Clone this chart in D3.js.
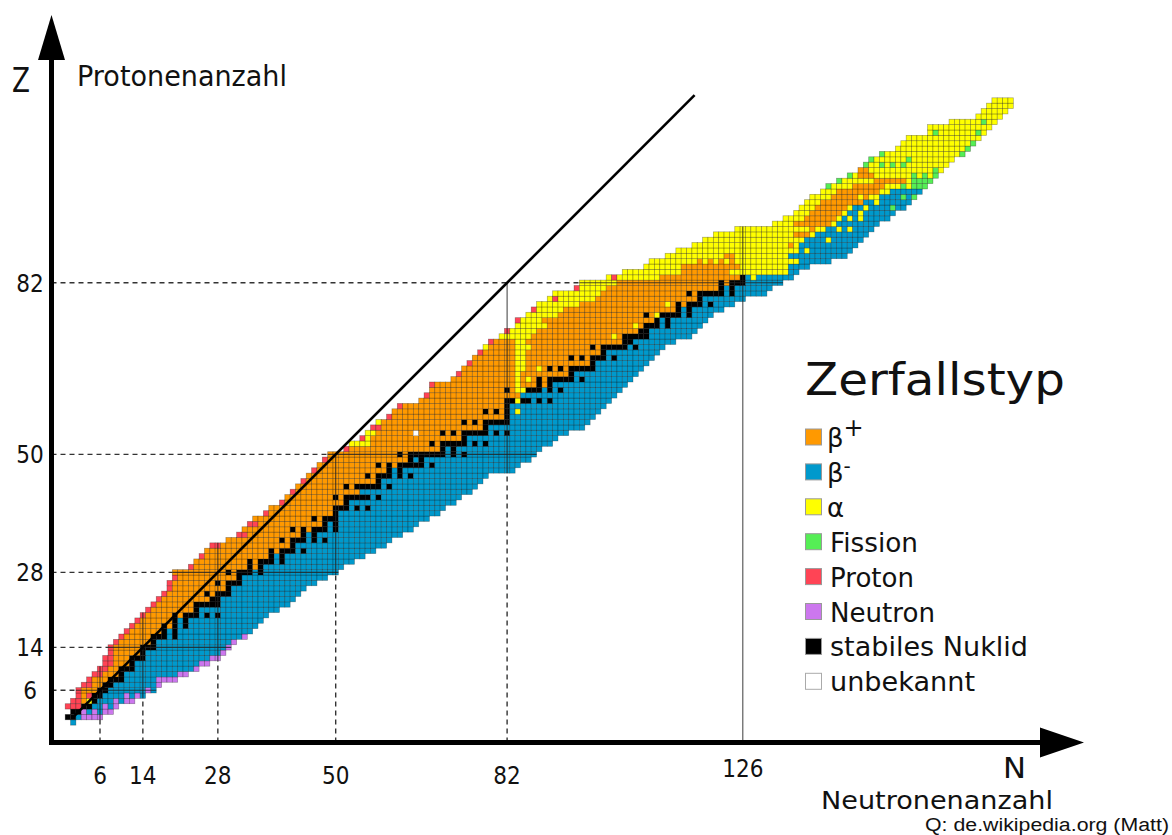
<!DOCTYPE html>
<html>
<head>
<meta charset="utf-8">
<script src="https://cdn.jsdelivr.net/npm/d3@7"></script>
<style>
  body { margin: 0; background: #fff; }
  svg { display: block; }
</style>
</head>
<body>
<div id="chart"></div>
<script>
// decay type keys and legend labels
const decayKeys = ["o", "b", "a", "f", "p", "n", "s", "u"];
const decayLabels = ["β", "β", "α", "Fission", "Proton", "Neutron", "stabiles Nuklid", "unbekannt"];
const decaySup = ["+", "-", "", "", "", "", "", ""];

// first neutron number N of every row, index = proton number Z
const rowStartN = [
  1, 0, 1, 0, 1, 2, 2, 3, 4, 5,
  6, 7, 7, 8, 8, 9, 10, 11, 12, 13,
  14, 15, 16, 17, 18, 19, 19, 20, 20, 23,
  24, 25, 26, 27, 30, 32, 33, 34, 35, 37,
  38, 40, 41, 42, 43, 44, 45, 46, 47, 48,
  49, 52, 53, 55, 56, 57, 58, 60, 61, 62,
  66, 67, 68, 68, 72, 73, 74, 75, 76, 77,
  78, 79, 81, 82, 84, 84, 86, 87, 88, 90,
  91, 95, 96, 101, 104, 108, 109, 112, 114, 117,
  119, 121, 125, 132, 134, 136, 137, 138, 139, 141,
  142, 144, 146, 148, 149, 150, 152, 155, 156, 157,
  161, 161, 165, 170, 171, 172, 173
];

// decay type runs along each row (type letter + count), index = Z
const rowRuns = [
  "b1", "s2b1n4", "s2n1b1n1b1n2", "p3s2b2n1b1n1", "p2o1a1s1b3n1b1n2",
  "p1o1p1s2b4n1b1n1b1", "p1o3s2b7n1b1", "p2o2s2b8n1", "p1o3s3b6n4", "p2o3s1b10n2",
  "p2o2s3b11n1", "p2o3s1b12n2", "p2o3s3b12n2", "p1o5s1b14n1", "p1o5s3b13n1",
  "p1o6s1b14n1", "p1o5s3b1s1b12n1", "p1o6s1b1s1b14", "p1o5s1o1s1b1s1b13", "p1o6s1b1s1b14",
  "p1o5s1o1s3b1s1b1s1b9", "p1o8s1b15", "p1o7s5b13", "p1o9s2b14", "p1o7s1o1s3b13",
  "p1o10s1b14", "p1o8s1o1s3b14", "p1o11s1b16", "o10s1o1s3b1s1b14", "p1o10s1o1s1b15",
  "o10s1o1s3b1s1b13", "p1o12s1b1s1b15", "o12s1o1s3b1s1b13", "p2o13s1b17", "o10s1o1s3b1s1b1s1b12",
  "p2o10s1b1s1b16", "o9s1o1s1o1s3b1s1b14", "p2o12s1b1s1b15", "o11s1o1s3b17", "p1o12s1b19",
  "o12s3b1s1b1s1b14", "p1o11s1b20", "o9s1o1s5b1s1b15", "p1o12b21", "o9s1o1s5b1s1b16",
  "p1o13s1b19", "o11s1o1s3b1s1b1s1b14", "p1o13s1b1s1b21", "o11s1o1s1o1s5b1s1b16", "p1o15s1b1s1b20",
  "o13s1o1s7b1s1b1s1b13", "p1o17s1b1s1b16", "a4o11s1o1s5b1s1b1s1b12", "p1a1o17s1b17", "a2o7u1o4s1o1s1o1s5b1s1b1s1b11",
  "p2o19s1b18", "a1o15s1o1s1o1s5b15", "p1o21s1b16", "o17s1o1s1o1s1b1a1b15", "p1o19s1b18",
  "o16s2a1s2b1s1b1s1b11", "p1o17b18", "o14s1o1a2s3b1s1b1s1b11", "p1o15a1o3s1o1s1b14", "o12a1o1a1o1s1o1s5b1s1b9",
  "p1o10a1o9s1b12", "o10a2o2a1o1s1o1s1o1s5b9", "p1o8a2o12s1b10", "o8a2o8s1o1s1o1s3b1s1b7", "p1o6a2o14s1b10",
  "a1o5a3o11s1o1s5b1s1b5", "p1o4a2o18s2b8", "a6o15a1o1s5b8", "p1a5o19s2b9", "a6o16a1o1s3b1s1b6",
  "p1a4o21s1b1s1b7", "a6o16s1o1a1s4b1s1b4", "p1a5o21s1b1s1b6", "a8o16a1o1s1o1s3b1s1b4", "a1p1a7o19s1b8",
  "a9o16s1o1s5b1s1b6", "p1a5o21s1b1s1b7", "a7o19s1o1s3b7", "a1p1a8o15s1b1a1b7", "a11o9a11b2",
  "a7o11a9b4", "a9o1a1o1a1o1a1o1a12b6", "a11o2a10b11", "a23b1a1b8", "a18o1a1b11",
  "a19b4a1b6", "a15o3a1b10", "a14o1a2b2a1b1a1b4", "a4o7a1b8", "a4o6a1b1a1b1a1b5",
  "a3o6a1b2a1b6", "a3o6a1b2a1b4f1b2", "a3o8b2a1b6", "a4o5a1o1a2b4f1b1f1", "a3o8a2b6",
  "f1a4o6a3f1a1f3", "f1a6o6a1f4", "f1a1o3a7f1a1f1a1f1", "o2a12f1a1", "f1a2f1a1f1a1f1a8",
  "f1a6f1a8", "f1a14f1", "a13f1", "a13f1", "a14",
  "a1f1a7f1a1", "a12", "a6f1a2", "a5", "a5",
  "a5", "a4"
];

// magic numbers marked on the axes
const magicN = [6, 14, 28, 50, 82, 126];
const magicZ = [6, 14, 28, 50, 82];

// colours per decay type
const colors = {
  o: "#ff9900", b: "#0099cc", a: "#ffff00", f: "#55ee55",
  p: "#ff4455", n: "#cc77ee", s: "#000000", u: "#ffffff"
};

let width = 1172;
let height = 835;

let svg = d3.select("#chart").append("svg")
    .attr("width", width)
    .attr("height", height);

// scales: cell centres
let x = d3.scaleLinear().domain([6, 126]).range([100, 742.8]);
let y = d3.scaleLinear().domain([6, 82]).range([690.3, 282.8]);
let cw = x(1) - x(0);
let ch = y(0) - y(1);

// expand the runs into single cells
let cells = [];
let rowEnd = [];
rowRuns.forEach((runs, z) => {
  let n = rowStartN[z];
  for (const m of runs.matchAll(/([a-z])(\d+)/g)) {
    for (let k = 0; k < +m[2]; k++) {
      cells.push({ z: z, n: n, t: m[1] });
      n++;
    }
  }
  rowEnd[z] = n - 1;
});

svg.append("g")
  .selectAll("rect")
  .data(cells)
  .enter()
  .append("rect")
  .attr("x", d => x(d.n) - cw / 2)
  .attr("y", d => y(d.z) - ch / 2)
  .attr("width", cw)
  .attr("height", ch)
  .attr("fill", d => colors[d.t])
  .attr("stroke", d => d.t == "u" ? "#bbb" : "rgba(0,0,0,0.35)")
  .attr("stroke-width", 0.7);

let axisY = 742.5;  // x axis line
let axisX = 51.5;   // y axis line
let lineTop = 117;  // last point of the N = Z line

// magic number lines: dashed outside the chart, solid inside
let lines = svg.append("g");
magicZ.forEach(z => {
  let x0 = x(rowStartN[z]) - cw / 2;
  let x1 = x(rowEnd[z]) + cw / 2;
  lines.append("line")
    .attr("x1", axisX).attr("x2", x0)
    .attr("y1", y(z)).attr("y2", y(z))
    .attr("stroke", "#333").attr("stroke-width", 1.4)
    .attr("stroke-dasharray", "5,4");
  lines.append("line")
    .attr("x1", x0).attr("x2", x1)
    .attr("y1", y(z)).attr("y2", y(z))
    .attr("stroke", "#222").attr("stroke-width", 1.1).attr("opacity", 0.8);
});
magicN.forEach(n => {
  let zs = cells.filter(d => d.n == n).map(d => d.z);
  let zmin = d3.min(zs), zmax = d3.max(zs);
  let top = (n <= lineTop && n >= zmax) ? y(n) : y(zmax) - ch / 2;
  let bottom = n == 126 ? axisY : y(zmin) + ch / 2;
  if (n != 126) {
    lines.append("line")
      .attr("x1", x(n)).attr("x2", x(n))
      .attr("y1", axisY).attr("y2", bottom)
      .attr("stroke", "#333").attr("stroke-width", 1.4)
      .attr("stroke-dasharray", "5,4");
  }
  lines.append("line")
    .attr("x1", x(n)).attr("x2", x(n))
    .attr("y1", bottom).attr("y2", top)
    .attr("stroke", "#222").attr("stroke-width", 1.1).attr("opacity", 0.8);
});

// N = Z line
svg.append("line")
  .attr("x1", x(1)).attr("y1", y(1))
  .attr("x2", x(lineTop)).attr("y2", y(lineTop))
  .attr("stroke", "#000").attr("stroke-width", 2.6);

// axes with arrows
svg.append("line")
  .attr("x1", axisX).attr("x2", 1045)
  .attr("y1", axisY).attr("y2", axisY)
  .attr("stroke", "#000").attr("stroke-width", 5);
svg.append("path")
  .attr("d", "M1040," + (axisY - 15) + "L1084," + axisY + "L1040," + (axisY + 15) + "Z")
  .attr("fill", "#000");
svg.append("line")
  .attr("x1", axisX).attr("x2", axisX)
  .attr("y1", axisY + 2.5).attr("y2", 55)
  .attr("stroke", "#000").attr("stroke-width", 5);
svg.append("path")
  .attr("d", "M" + (axisX - 13.5) + ",60L" + axisX + ",15L" + (axisX + 13.5) + ",60Z")
  .attr("fill", "#000");

let tickFont = "'Liberation Sans Narrow', 'DejaVu Sans Condensed', sans-serif";

// tick labels
svg.append("g")
  .selectAll("text")
  .data(magicN)
  .enter()
  .append("text")
  .attr("x", d => x(d))
  .attr("y", d => d == 126 ? 777 : 784)
  .attr("text-anchor", "middle")
  .style("font-family", tickFont)
  .style("font-size", "24px")
  .attr("fill", "#111")
  .text(d => d);

svg.append("g")
  .selectAll("text")
  .data(magicZ)
  .enter()
  .append("text")
  .attr("x", 30)
  .attr("y", d => y(d) + 9)
  .attr("text-anchor", "middle")
  .style("font-family", tickFont)
  .style("font-size", "24px")
  .attr("fill", "#111")
  .text(d => d);

// axis titles
function label(txt, tx, ty, size, len, family) {
  return svg.append("text")
    .attr("x", tx).attr("y", ty)
    .attr("textLength", len)
    .attr("lengthAdjust", "spacingAndGlyphs")
    .style("font-family", family || "'DejaVu Sans', sans-serif")
    .style("font-size", size + "px")
    .attr("fill", "#111")
    .text(txt);
}
label("Z", 12, 92, 34, 18);
label("Protonenanzahl", 77, 86, 28, 210);
label("N", 1003, 778, 29, 23);
label("Neutronenanzahl", 821, 809, 25, 232);
label("Q: de.wikipedia.org (Matt)", 925, 831, 18, 244, "'Liberation Sans', Arial, sans-serif");

// legend
let legend = svg.append("g");
label("Zerfallstyp", 805, 395, 45, 260);
let itemLen = [0, 0, 0, 88, 84, 105, 198, 145];
let items = legend.selectAll("g")
    .data(decayKeys)
    .enter()
    .append("g")
    .attr("transform", (d, i) => "translate(805," + (437 + i * 34.9) + ")");
items.append("rect")
  .attr("x", 0.5).attr("y", -8)
  .attr("width", 16).attr("height", 16)
  .attr("fill", d => colors[d])
  .attr("stroke", d => d == "u" ? "#aaa" : "#999")
  .attr("stroke-width", 1);
let itemText = items.append("text")
    .attr("x", d => d == "o" || d == "b" || d == "a" ? 22 : 25)
    .attr("y", 10)
    .style("font-family", "'DejaVu Sans', sans-serif")
    .style("font-size", "26px")
    .attr("fill", "#111")
    .each(function (d, i) {
      if (itemLen[i]) {
        d3.select(this).attr("textLength", itemLen[i]).attr("lengthAdjust", "spacingAndGlyphs");
      }
    })
    .text((d, i) => decayLabels[i]);
itemText.append("tspan")
  .attr("dy", (d, i) => decaySup[i] == "+" ? -11 : -9)
  .style("font-size", (d, i) => decaySup[i] == "+" ? "24px" : "20px")
  .text((d, i) => decaySup[i]);
</script>
</body>
</html>
